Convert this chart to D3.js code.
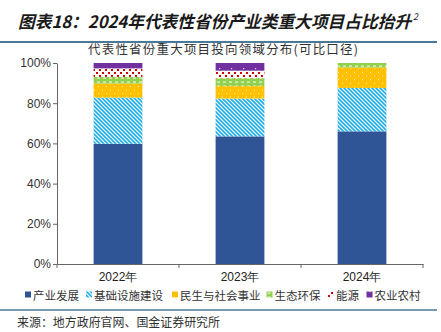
<!DOCTYPE html>
<html>
<head>
<meta charset="utf-8">
<script src="https://cdn.jsdelivr.net/npm/d3@7"></script>
<style>
  body { margin: 0; background: #fff; }
  svg { display: block; font-family: "Liberation Sans", Arial, sans-serif; }
  .cjk { font-family: "Noto Sans CJK SC", sans-serif; }
</style>
</head>
<body>
<svg id="chart" width="441" height="332"></svg>
<script>
// data (share of projects, %)
var years = ['2022年', '2023年', '2024年'];
var seriesNames = ['产业发展', '基础设施建设', '民生与社会事业', '生态环保', '能源', '农业农村'];
var industry    = [59.8, 63.5, 66.0];
var infra       = [23.0, 18.8, 21.6];
var livelihood  = [7.0, 6.2, 10.2];
var ecology     = [3.3, 4.0, 2.2];
var energy      = [4.2, 3.7, 0];
var agriculture = [2.7, 3.8, 0];
var yTicks = [0, 0.2, 0.4, 0.6, 0.8, 1];

var svg = d3.select('#chart');

var rows = years.map(function(y, i) {
  return { year: y, '产业发展': industry[i], '基础设施建设': infra[i], '民生与社会事业': livelihood[i],
           '生态环保': ecology[i], '能源': energy[i], '农业农村': agriculture[i] };
});

// patterns
var defs = svg.append('defs');
function pat(id, w, h) {
  return defs.append('pattern').attr('id', id).attr('patternUnits', 'userSpaceOnUse')
             .attr('width', w).attr('height', h);
}
var p1 = pat('p-infra', 4, 4);
p1.append('rect').attr('width', 4).attr('height', 4).attr('fill', '#fff');
p1.append('path').attr('d', 'M-1,-1 L5,5 M-1,3 L1,5 M3,-1 L5,1').attr('stroke', '#1cb0ea').attr('stroke-width', 1.6);
var p2 = pat('p-live', 8, 7);
p2.append('rect').attr('width', 8).attr('height', 7).attr('fill', '#ffc000');
p2.append('rect').attr('x', 2).attr('y', 2).attr('width', 1).attr('height', 1).attr('fill', '#fff3c0');
p2.append('rect').attr('x', 6).attr('y', 5.5).attr('width', 1).attr('height', 1).attr('fill', '#fff3c0');
var p3 = pat('p-eco', 6, 4);
p3.append('rect').attr('width', 6).attr('height', 4).attr('fill', '#92d050');
p3.append('rect').attr('x', 1).attr('y', 1.5).attr('width', 3).attr('height', 1.2).attr('fill', '#e8f6d8');
var p4 = pat('p-energy', 6, 6);
p4.append('rect').attr('width', 6).attr('height', 6).attr('fill', '#fff');
p4.append('rect').attr('x', 0).attr('y', 0).attr('width', 2).attr('height', 2).attr('fill', '#d00000');
p4.append('rect').attr('x', 3).attr('y', 3).attr('width', 2).attr('height', 2).attr('fill', '#d00000');
var p5 = pat('p-agri', 12, 8);
p5.append('rect').attr('width', 12).attr('height', 8).attr('fill', '#7030a0');
p5.append('rect').attr('x', 3).attr('y', 4).attr('width', 1.2).attr('height', 1.2).attr('fill', '#e6d6f0');

var fills = ['#2f5597', 'url(#p-infra)', 'url(#p-live)', 'url(#p-eco)', 'url(#p-energy)', 'url(#p-agri)'];
var color = d3.scaleOrdinal().domain(seriesNames).range(fills);

// scales
var x = d3.scaleBand().domain(years).range([57, 423]).paddingInner(0.6).paddingOuter(0.3);
var y = d3.scaleLinear().domain([0, 1]).range([264, 63]);

var stack = d3.stack().keys(seriesNames).value(function(d, k) { return d[k] / 100; });
var layers = stack(rows);

svg.append('g').selectAll('g').data(layers).enter().append('g')
   .attr('fill', function(d) { return color(d.key); })
   .selectAll('rect').data(function(d) { return d; }).enter().append('rect')
   .attr('x', function(d) { return x(d.data.year); })
   .attr('width', x.bandwidth())
   .attr('y', function(d) { return y(d[1]); })
   .attr('height', function(d) { return y(d[0]) - y(d[1]); });

// y axis
var yAxis = svg.append('g').attr('transform', 'translate(57,0)')
   .call(d3.axisLeft(y).tickValues(yTicks).tickFormat(d3.format('.0%')).tickSize(4).tickSizeOuter(0));
yAxis.select('.domain').attr('stroke', '#666');
yAxis.selectAll('.tick line').attr('stroke', '#666');
yAxis.selectAll('text').attr('fill', '#333').style('font-size', '12px').attr('x', -6);

// x axis
var xAxis = svg.append('g').attr('transform', 'translate(0,264)')
   .call(d3.axisBottom(x).tickSize(0).tickSizeOuter(0));
xAxis.select('.domain').attr('stroke', '#666');
xAxis.selectAll('text').attr('fill', '#222').style('font-size', '12px').attr('dy', '1.15em');
var bounds = years.map(function(d) { return x(d) - x.step() * x.paddingOuter(); });
bounds.push(423);
xAxis.selectAll('.bnd').data(bounds).enter().append('line')
   .attr('x1', function(d) { return d; }).attr('x2', function(d) { return d; })
   .attr('y1', 0).attr('y2', 4).attr('stroke', '#666');

// title + rules
var title = svg.append('text').attr('class', 'cjk').attr('x', 18).attr('y', 28)
   .attr('textLength', 400).attr('lengthAdjust', 'spacingAndGlyphs')
   .style('font-size', '17px').style('font-weight', 'bold').style('font-style', 'italic')
   .attr('fill', '#1a1a1a');
title.append('tspan').text('图表18：2024年代表性省份产业类重大项目占比抬升');
title.append('tspan').attr('dx', 2).attr('dy', -8).style('font-size', '9px').style('font-weight', 'normal').text('2');
svg.append('line').attr('x1', 0).attr('x2', 437).attr('y1', 42).attr('y2', 42)
   .attr('stroke', '#4a7898').attr('stroke-width', 2);
svg.append('text').attr('class', 'cjk').attr('x', 88).attr('y', 54)
   .attr('textLength', 270).attr('lengthAdjust', 'spacing')
   .style('font-size', '12.5px').attr('fill', '#333').text('代表性省份重大项目投向领域分布(可比口径)');

// legend
var legendX = [25, 86, 172, 266.5, 328, 366.5];
var lg = svg.append('g').selectAll('g').data(seriesNames).enter().append('g')
   .attr('transform', function(d, i) { return 'translate(' + legendX[i] + ',295)'; });
lg.append('rect').attr('x', 0).attr('y', -3.5).attr('width', 6).attr('height', 6)
   .attr('fill', function(d) { return color(d); });
lg.append('text').attr('class', 'cjk').attr('x', 8).attr('y', 4.5)
   .style('font-size', '11.5px').attr('fill', '#333').text(function(d) { return d; });

svg.append('line').attr('x1', 0).attr('x2', 437).attr('y1', 310).attr('y2', 310)
   .attr('stroke', '#4a7898').attr('stroke-width', 1.5);
svg.append('text').attr('class', 'cjk').attr('x', 17).attr('y', 327)
   .attr('textLength', 203).attr('lengthAdjust', 'spacingAndGlyphs')
   .style('font-size', '12.5px').attr('fill', '#333').text('来源：地方政府官网、国金证券研究所');
</script>
</body>
</html>
